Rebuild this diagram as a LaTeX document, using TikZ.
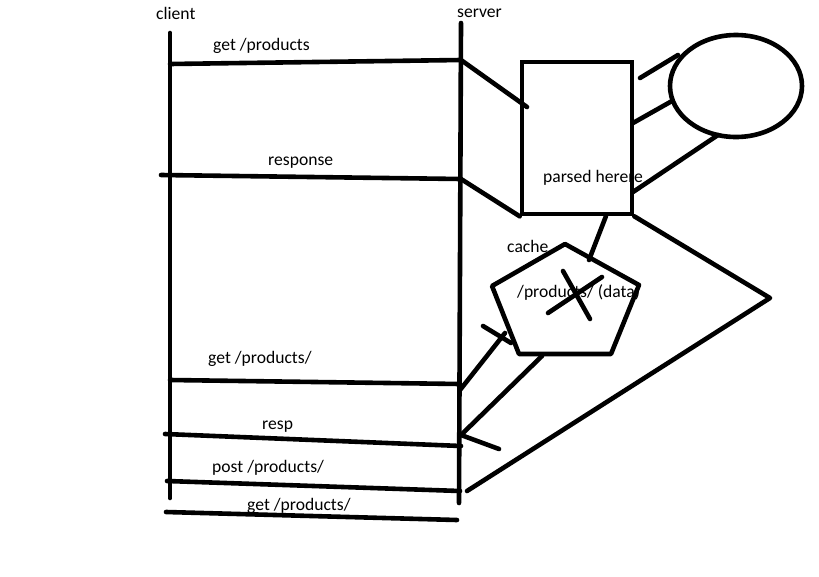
\documentclass[tikz,border=0pt]{standalone}
\usepackage{fontspec}
\setmainfont{Carlito}
\usetikzlibrary{shapes.geometric}
\begin{document}
\begin{tikzpicture}[x=1pt,y=-1pt,
  stroke/.style={line width=4.6pt,line cap=round,line join=round},
  lbl/.style={anchor=base west,inner sep=0pt,font=\fontsize{17.6}{20}\selectfont}]
\useasboundingbox[fill=white] (0,0) rectangle (819,576);
% lifelines
\coordinate (cTop) at (170,33); \coordinate (cBot) at (170,498);
\coordinate (sTop) at (461,23); \coordinate (sBot) at (459,503);
\draw[stroke] (cTop) -- (cBot);
\draw[stroke] (sTop) -- (sBot);
\node[lbl] (client) at (156,19) {client};
\node[lbl] (server) at (457,17) {server};
% messages
\coordinate (m1a) at (170,64);  \coordinate (m1b) at (461,60);
\coordinate (m2a) at (161,175); \coordinate (m2b) at (461,179);
\coordinate (m3a) at (170,380); \coordinate (m3b) at (460,384);
\coordinate (m4a) at (165,434); \coordinate (m4b) at (461,446);
\coordinate (m5a) at (167,481); \coordinate (m5b) at (460,491);
\coordinate (m6a) at (166,512); \coordinate (m6b) at (457,520);
\foreach \i in {1,...,6} {\draw[stroke] (m\i a) -- (m\i b);}
\node[lbl] (l1) at (213,50) {get /products};
\node[lbl] (l2) at (268,165) {response};
\node[lbl] (l3) at (208,363) {get /products/};
\node[lbl] (l4) at (262,429) {resp};
\node[lbl] (l5) at (212,472) {post /products/};
\node[lbl] (l6) at (247,510) {get /products/};
% processing box
\node[lbl] (parsed) at (543,182) {parsed herere};
\node[draw,line width=4.6pt,minimum width=110pt,minimum height=152pt,inner sep=0pt] (proc) at (577,138) {};
\coordinate (pIn) at (527,107);
\draw[stroke] (m1b) -- (pIn);
\draw[stroke] (m2b) -- (proc.south west);
% database ellipse
\node[draw,ellipse,line width=4.6pt,minimum width=132pt,minimum height=102pt,inner sep=0pt] (db) at (736,86) {};
\coordinate (e1a) at (640,78);  \coordinate (e1b) at (678,55);
\coordinate (e2a) at (633,123); \coordinate (e2b) at (672,101);
\coordinate (e3a) at (633,192); \coordinate (e3b) at (718,135);
\draw[stroke] (e1a) -- (e1b);
\draw[stroke] (e2a) -- (e2b);
\draw[stroke] (e3a) -- (e3b);
% cache pentagon
\node[lbl] (cache) at (507,252) {cache};
\node[lbl] (data) at (517,297) {/products/ (data)};
\coordinate (k1) at (565,244); \coordinate (k2) at (639,285);
\coordinate (k3) at (611,354); \coordinate (k4) at (519,354);
\coordinate (k5) at (492,286);
\draw[stroke] (k1) -- (k2) -- (k3) -- (k4) -- (k5) -- cycle;
\coordinate (x1a) at (563,271); \coordinate (x1b) at (590,319);
\coordinate (x2a) at (602,277); \coordinate (x2b) at (548,313);
\draw[stroke] (x1a) -- (x1b);
\draw[stroke] (x2a) -- (x2b);
\coordinate (pk) at (606,216); \coordinate (kp) at (589,260);
\draw[stroke] (pk) -- (kp);
% server <-> cache
\coordinate (sc1) at (460,390); \coordinate (sc2) at (505,333);
\draw[stroke] (sc1) -- (sc2);
\coordinate (t1a) at (483,326); \coordinate (t1b) at (511,343);
\draw[stroke] (t1a) -- (t1b);
\coordinate (cs1) at (542,356); \coordinate (cs2) at (461,435);
\draw[stroke] (cs1) -- (cs2);
\coordinate (t2b) at (499,449);
\draw[stroke] (cs2) -- (t2b);
% big loop
\coordinate (tip) at (770,298); \coordinate (ret) at (467,491);
\draw[stroke] (proc.south east) -- (tip) -- (ret);
\end{tikzpicture}
\end{document}
